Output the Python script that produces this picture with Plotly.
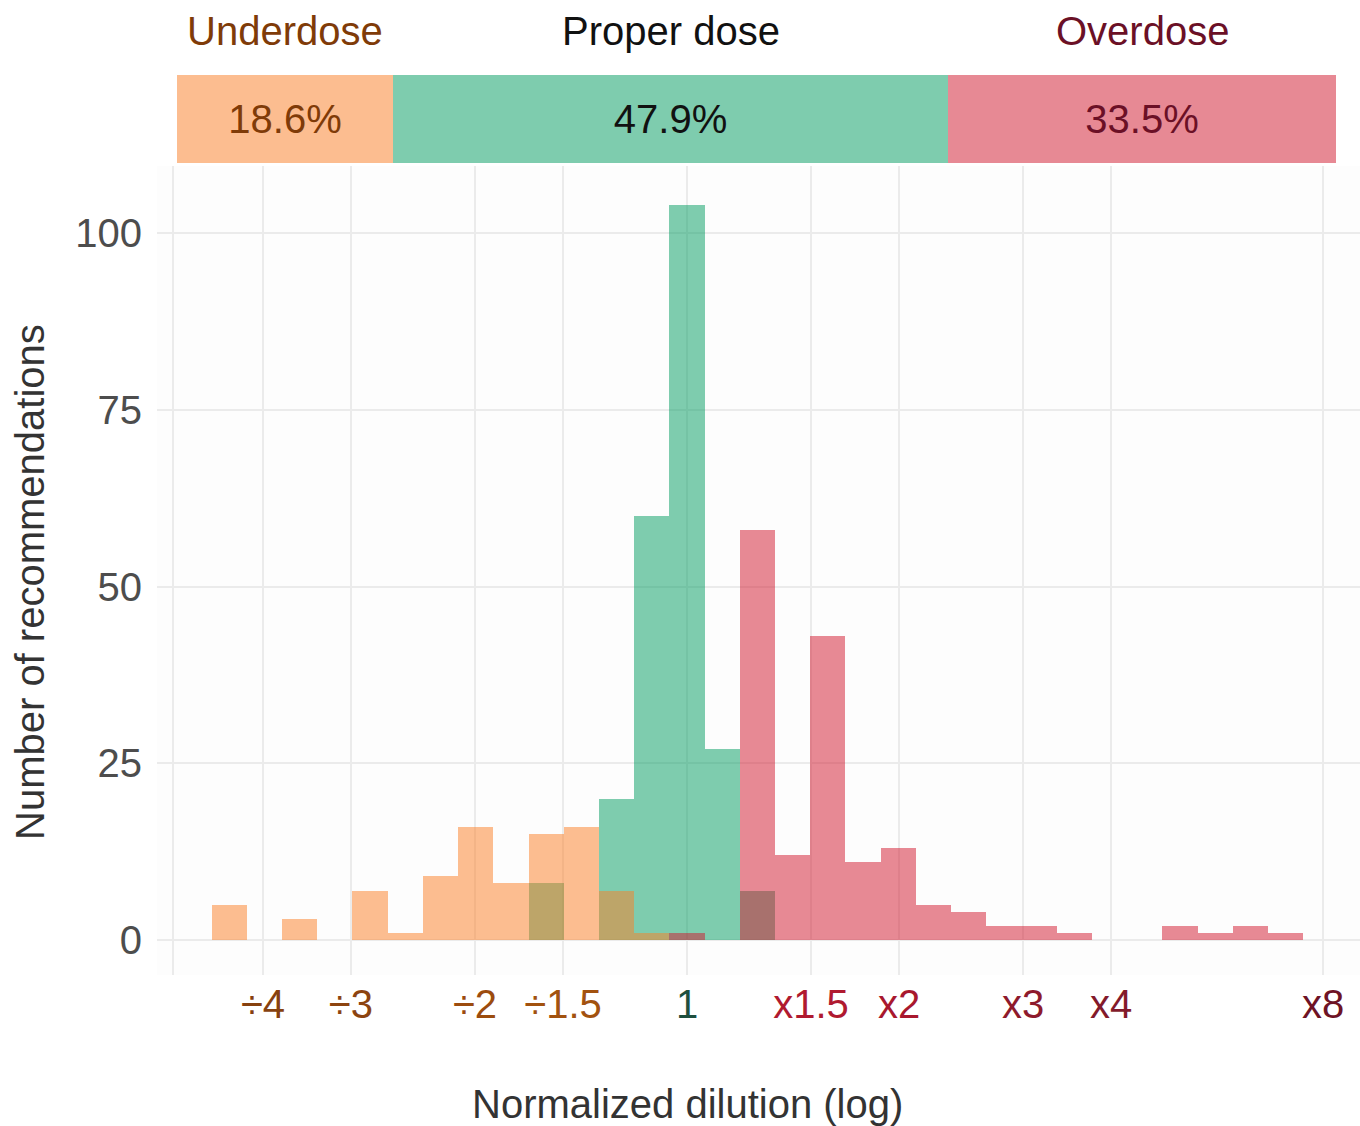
import math
import plotly.graph_objects as go

# ---------------- data ----------------
# histogram bin centres on a log10 scale (bin width 0.05 in log10 units) and counts
under_bins = [-0.65, -0.55, -0.45, -0.40, -0.35, -0.30, -0.25, -0.20, -0.15, -0.10, -0.05]
under_counts = [5, 3, 7, 1, 9, 16, 8, 15, 16, 7, 1]
proper_bins = [-0.20, -0.10, -0.05, 0.0, 0.05, 0.10]
proper_counts = [8, 20, 60, 104, 27, 7]
over_bins = [0.0, 0.10, 0.15, 0.20, 0.25, 0.30, 0.35, 0.40, 0.45, 0.50, 0.55, 0.70, 0.75, 0.80, 0.85]
over_counts = [1, 58, 12, 43, 11, 13, 5, 4, 2, 2, 1, 2, 1, 2, 1]
bin_width = 0.05

groups = ["Underdose", "Proper dose", "Overdose"]
group_counts = [sum(under_counts), sum(proper_counts), sum(over_counts)]

tick_factors = [1 / 4, 1 / 3, 1 / 2, 1 / 1.5, 1, 1.5, 2, 3, 4, 8]
tick_labels = ["÷4", "÷3", "÷2", "÷1.5", "1", "x1.5", "x2", "x3", "x4", "x8"]
tick_colors = ["#87410F", "#8C4410", "#9C4C0E", "#A2520F", "#1E4F3E",
               "#B01A30", "#A8182E", "#8E1A2C", "#831A2B", "#6E1325"]
extra_grid = [-0.73]  # unlabeled gridline at left of panel

y_ticks = [0, 25, 50, 75, 100]

# ---------------- style ----------------
W, H = 1360, 1126
FONT = "Liberation Sans, Arial, sans-serif"
col_under = "rgba(251,125,35,0.5)"
col_proper = "rgba(0,155,95,0.5)"
col_over = "rgba(209,21,43,0.5)"
bar_cols = [col_under, col_proper, col_over]
label_cols = ["#7F3B08", "#111111", "#6B1026"]
GRID = "#EBEBEB"


def px_x(p):
    return p / W


def px_y(p):
    return 1 - p / H


fig = go.Figure()

# histogram (proper first so under/over draw on top of it)
fig.add_trace(go.Bar(x=proper_bins, y=proper_counts, width=bin_width,
                     marker=dict(color=col_proper, line=dict(width=0)),
                     showlegend=False))
fig.add_trace(go.Bar(x=under_bins, y=under_counts, width=bin_width,
                     marker=dict(color=col_under, line=dict(width=0)),
                     showlegend=False))
fig.add_trace(go.Bar(x=over_bins, y=over_counts, width=bin_width,
                     marker=dict(color=col_over, line=dict(width=0)),
                     showlegend=False))

# top proportion bar
total = sum(group_counts)
pcts = [100 * c / total for c in group_counts]
bases = [sum(pcts[:i]) for i in range(len(pcts))]
for i, g in enumerate(groups):
    fig.add_trace(go.Bar(x=[pcts[i]], y=[0], base=[bases[i]], orientation="h", width=1,
                         marker=dict(color=bar_cols[i], line=dict(width=0)),
                         text=[f"{pcts[i]:.1f}%"], textposition="inside",
                         insidetextanchor="middle", textangle=0, constraintext="none",
                         textfont=dict(size=40, color=label_cols[i], family=FONT),
                         xaxis="x2", yaxis="y2", showlegend=False, hoverinfo="skip"))
    fig.add_annotation(x=bases[i] + pcts[i] / 2, xref="x2", y=px_y(31), yref="paper",
                       text=g, showarrow=False, xanchor="center", yanchor="middle",
                       font=dict(size=40, color=label_cols[i], family=FONT))

tickvals = extra_grid + [math.log10(f) for f in tick_factors]
ticktext = [""] + [f'<span style="color:{c}">{t}</span>' for t, c in zip(tick_labels, tick_colors)]

x0_px, x1_px, one_px, ppu = 157, 1360, 687, 704.3
fig.update_layout(
    width=W, height=H,
    margin=dict(l=0, r=0, t=0, b=0),
    paper_bgcolor="#FFFFFF", plot_bgcolor="#FDFDFD",
    barmode="overlay", bargap=0,
    font=dict(family=FONT, size=40, color="#4D4D4D"),
    xaxis=dict(domain=[px_x(x0_px), px_x(x1_px)],
               range=[(x0_px - one_px) / ppu, (x1_px - one_px) / ppu],
               tickvals=tickvals, ticktext=ticktext,
               showgrid=True, gridcolor=GRID, gridwidth=2,
               zeroline=False, showline=False,
               ticks="", ticklabelstandoff=2,
               tickfont=dict(size=40, family=FONT), automargin=False, fixedrange=True),
    yaxis=dict(domain=[px_y(975), px_y(166)],
               range=[(940 - 975) / 7.07, (940 - 166) / 7.07],
               tickvals=y_ticks,
               showgrid=True, gridcolor=GRID, gridwidth=2,
               zeroline=False, showline=False,
               ticks="outside", ticklen=6, tickcolor="rgba(0,0,0,0)",
               tickfont=dict(size=40, color="#4D4D4D", family=FONT), automargin=False),
    xaxis2=dict(domain=[px_x(177), px_x(1336)], range=[0, 100], anchor="y2",
                showgrid=False, zeroline=False, showticklabels=False, showline=False),
    yaxis2=dict(domain=[px_y(163), px_y(75)], range=[-0.5, 0.5], anchor="x2",
                showgrid=False, zeroline=False, showticklabels=False, showline=False),
)

# axis titles
fig.add_annotation(x=px_x(687), y=px_y(1104), xref="paper", yref="paper",
                   text="Normalized dilution (log)", showarrow=False,
                   xanchor="center", yanchor="middle",
                   font=dict(size=40, color="#333333", family=FONT))
fig.add_annotation(x=px_x(30), y=px_y(582), xref="paper", yref="paper",
                   text="Number of recommendations", showarrow=False, textangle=-90,
                   xanchor="center", yanchor="middle",
                   font=dict(size=40, color="#333333", family=FONT))

fig.write_html("out.html", config={"displayModeBar": False},
               post_script="document.body.style.margin='0';document.body.style.padding='0';")
